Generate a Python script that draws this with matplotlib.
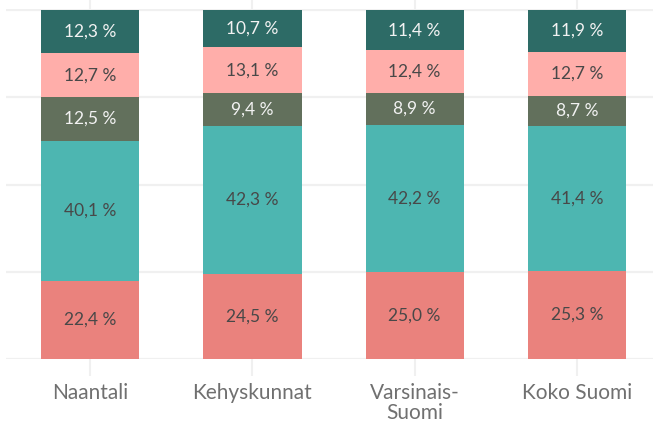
import matplotlib.pyplot as plt
import numpy as np

plt.rcParams['font.family'] = ['Lato', 'DejaVu Sans']

categories = ["Naantali", "Kehyskunnat", "Varsinais-\nSuomi", "Koko Suomi"]

# stacked shares from bottom to top, percent
seg1 = [22.4, 24.5, 25.0, 25.3]
seg2 = [40.1, 42.3, 42.2, 41.4]
seg3 = [12.5, 9.4, 8.9, 8.7]
seg4 = [12.7, 13.1, 12.4, 12.7]
seg5 = [12.3, 10.7, 11.4, 11.9]

series = [seg1, seg2, seg3, seg4, seg5]
colors = ["#EA827D", "#4DB6B1", "#62705C", "#FFAEAA", "#2D6B66"]
text_colors = ["#484848", "#484848", "#F2F2F2", "#484848", "#F2F2F2"]


def fmt(v):
    return f"{v:.1f}".replace(".", ",") + " %"


fig = plt.figure(figsize=(6.53, 4.28), dpi=100)
ax = fig.add_axes([6 / 653, 69 / 428, 1 - 6 / 653, 350 / 428])

x = np.arange(len(categories))
bottom = np.zeros(len(categories))
for vals, col, tcol in zip(series, colors, text_colors):
    vals = np.array(vals)
    ax.bar(x, vals, width=0.605, bottom=bottom, color=col, zorder=2)
    for xi, b, v in zip(x, bottom, vals):
        ax.text(xi, b + v / 2, fmt(v), ha="center", va="center",
                fontsize=12.5, color=tcol, zorder=3)
    bottom += vals

ax.set_xlim(-0.52, 3.47)
ax.set_ylim(0, 100.3)
ax.set_yticks([0, 25, 50, 75, 100])
ax.yaxis.grid(True, color="#F0F0F0", linewidth=1.6, zorder=0)
ax.set_axisbelow(True)
ax.tick_params(axis="y", left=False, labelleft=False)
ax.set_xticks(x)
ax.set_xticklabels(categories, fontsize=15, color="#707070", linespacing=1.05)
ax.tick_params(axis="x", bottom=True, top=True, length=12, width=1.5,
               color="#F0F0F0", pad=5)
for s in ax.spines.values():
    s.set_visible(False)

plt.savefig("out.png")
